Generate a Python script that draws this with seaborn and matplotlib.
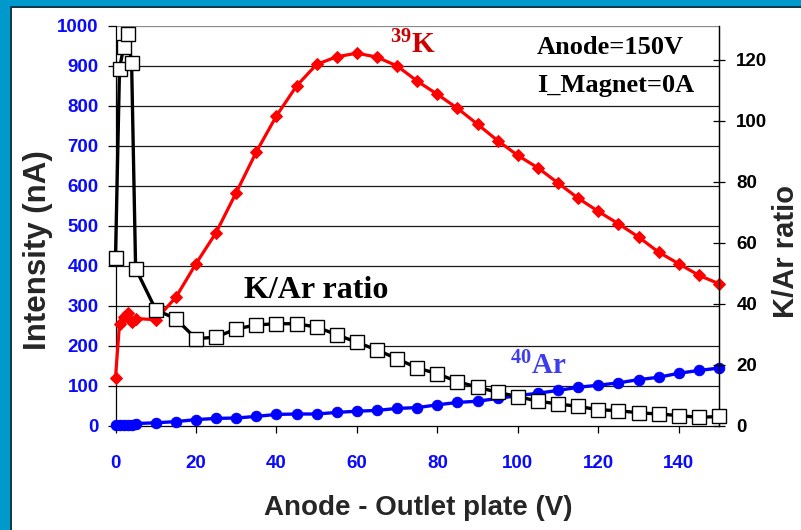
import matplotlib
matplotlib.use("Agg")
import matplotlib.pyplot as plt
from matplotlib.patches import Rectangle
import seaborn as sns
import pandas as pd

# Anode - outlet plate voltage (V)
voltage = [0, 1, 2, 3, 4, 5, 10, 15, 20, 25, 30, 35, 40, 45, 50, 55, 60, 65, 70,
           75, 80, 85, 90, 95, 100, 105, 110, 115, 120, 125, 130, 135, 140, 145, 150]
# 39K ion current (nA)
k39 = [120, 255, 273, 281, 259, 268, 265, 321, 405, 483, 583, 685, 775, 850, 904,
       923, 932, 922, 900, 862, 829, 794, 754, 713, 676, 645, 607, 569, 536, 505,
       472, 434, 405, 376, 355]
# 40Ar ion current (nA)
ar40 = [2.2, 2.2, 2.2, 2.2, 2.2, 5.2, 7, 10, 15, 18, 19, 23, 28, 29, 29, 33, 36,
        38, 43, 45, 52, 58, 61, 68, 75, 81, 88, 96, 101, 107, 115, 121, 131, 138, 144]
# K/Ar ratio (secondary axis)
kar_ratio = [55, 117, 124, 128.5, 119, 51.5, 38, 35, 28.5, 29, 31.7, 33, 33.4, 33.4,
             32.3, 29.8, 27.3, 24.8, 21.9, 18.9, 17, 14.4, 12.6, 10.9, 9.5, 8, 7.1,
             6.3, 5.2, 4.9, 4.2, 3.8, 3.3, 2.7, 3]

x_ticks = [0, 20, 40, 60, 80, 100, 120, 140]
left_ticks = list(range(0, 1001, 100))
right_ticks = [0, 20, 40, 60, 80, 100, 120]

df = pd.DataFrame({"V": voltage, "K39": k39, "Ar40": ar40, "ratio": kar_ratio})

sns.set_theme(style="white")
plt.rcParams["font.family"] = ["Liberation Sans", "DejaVu Sans"]
plt.rcParams["mathtext.fontset"] = "custom"
plt.rcParams["mathtext.rm"] = "Liberation Serif:bold"
plt.rcParams["mathtext.it"] = "Liberation Serif:bold"
plt.rcParams["mathtext.bf"] = "Liberation Serif:bold"

fig = plt.figure(figsize=(8.01, 5.30), dpi=100)
fig.patch.set_facecolor("white")
ax = fig.add_axes([115.5 / 801, 1 - 425.6 / 530, (719 - 115.5) / 801, (425.6 - 26) / 530])
ax2 = ax.twinx()
ax.set_zorder(1)
ax2.set_zorder(2)
ax.patch.set_visible(True)
ax2.patch.set_visible(False)

# Horizontal gridlines on the intensity scale
for yv in left_ticks[1:]:
    ax.axhline(yv, color="#1a1a1a" if yv < 1000 else "#888888", lw=0.9, zorder=0)

sns.lineplot(data=df, x="V", y="K39", ax=ax, color="#ff0000", lw=2.3,
             marker="D", markersize=6.2, markeredgecolor="#ff0000",
             markerfacecolor="#ff0000", clip_on=False, zorder=3)
sns.lineplot(data=df, x="V", y="Ar40", ax=ax, color="#0000ff", lw=2.4,
             marker="o", markersize=7.5, markeredgecolor="#0000ff",
             markerfacecolor="#0000ff", clip_on=False, zorder=3)
sns.lineplot(data=df, x="V", y="ratio", ax=ax2, color="black", lw=2.4,
             marker="s", markersize=9.5, markeredgecolor="black",
             markeredgewidth=1.0, markerfacecolor="white", clip_on=False, zorder=3)

ax.set_xlim(0, 150)
ax.set_ylim(0, 1000)
ax2.set_ylim(0, 131)
ax.set_xticks(x_ticks)
ax.set_yticks(left_ticks)
ax2.set_yticks(right_ticks)

tick_font = dict(family="Liberation Sans", weight="bold", size=13.5)
ax.set_xticklabels([str(t) for t in x_ticks], fontdict=tick_font, color="#0a0aff")
ax.set_yticklabels([str(t) for t in left_ticks], fontdict=tick_font, color="#0a0aff")
ax2.set_yticklabels([str(t) for t in right_ticks], fontdict=tick_font, color="black")

ax.tick_params(axis="x", direction="out", length=5, width=0.9, color="black", pad=16, bottom=True)
ax.tick_params(axis="y", direction="out", length=6, width=0.9, color="black", pad=6, left=True)
ax2.tick_params(axis="y", direction="inout", length=9, width=0.9, color="black", pad=8, right=True)

for a in (ax, ax2):
    for side, sp in a.spines.items():
        sp.set_color("black")
        sp.set_linewidth(0.9)
    a.spines["top"].set_visible(False)
ax2.spines["left"].set_visible(False)
ax2.spines["bottom"].set_visible(False)

ax.set_xlabel("")
ax.set_ylabel("")
ax2.set_ylabel("")

label_font = dict(family="Liberation Sans", weight="bold")
fig.text(418 / 801, 1 - 508 / 530, "Anode - Outlet plate (V)", ha="center", va="center",
         fontsize=20, **label_font)
fig.text(38 / 801, 1 - 250 / 530, "Intensity (nA)", ha="center", va="center",
         rotation=90, fontsize=22.5, **label_font)
fig.text(786 / 801, 1 - 252 / 530, "K/Ar ratio", ha="center", va="center",
         rotation=90, fontsize=21, **label_font)

serif = dict(family="Liberation Serif", weight="bold")
ax.text(74, 952, r"$^{39}$K", color="#cc0000", fontsize=21, ha="center", va="center", **serif)
ax.text(104.7, 945, "Anode=150V", color="black", fontsize=19, ha="left", va="center", **serif)
ax.text(104.7, 850, "I_Magnet=0A", color="black", fontsize=19, ha="left", va="center", **serif)
ax.text(50, 339, "K/Ar ratio", color="black", fontsize=23, ha="center", va="center", **serif)
ax.text(105.2, 150, r"$^{40}$Ar", color="#3d3df0", fontsize=21, ha="center", va="center", **serif)

# Slide frame along the top and left edges
frame_blue = "#0099cc"
fig.add_artist(Rectangle((0, 1 - 6 / 530), 1, 6 / 530, transform=fig.transFigure,
                         facecolor=frame_blue, edgecolor="none", zorder=10))
fig.add_artist(Rectangle((0, 0), 10 / 801, 1, transform=fig.transFigure,
                         facecolor=frame_blue, edgecolor="none", zorder=10))
fig.add_artist(Rectangle((10 / 801, 1 - 7.5 / 530), 1, 1.5 / 530, transform=fig.transFigure,
                         facecolor="#0b3a4a", edgecolor="none", zorder=11))
fig.add_artist(Rectangle((10 / 801, 0), 1.8 / 801, 1 - 6 / 530, transform=fig.transFigure,
                         facecolor="#0b3a4a", edgecolor="none", zorder=11))

fig.savefig("out.png", dpi=100)
